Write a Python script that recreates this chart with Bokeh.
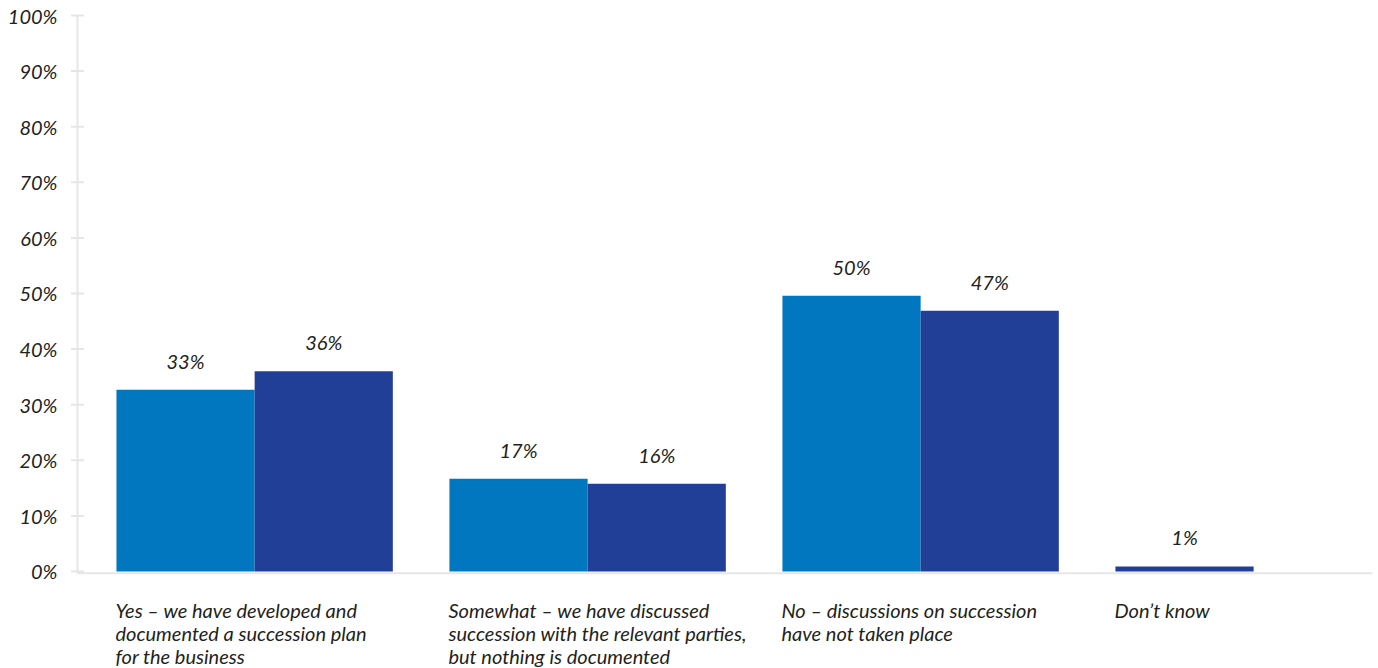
from bokeh.plotting import figure
from bokeh.models import ColumnDataSource, Range1d
from bokeh.core.properties import value
from bokeh.embed import file_html
from bokeh.resources import INLINE

categories = [
    "Yes \u2013 we have developed and\ndocumented a succession plan\nfor the business",
    "Somewhat  \u2013 we have discussed\nsuccession with the relevant parties,\nbut nothing is documented",
    "No \u2013 discussions on succession\nhave not taken place",
    "Don\u2019t know",
]
series_a = [32.7, 16.7, 49.6, None]
series_b = [36.0, 15.8, 46.9, 0.9]
y_ticks = [0, 10, 20, 30, 40, 50, 60, 70, 80, 90, 100]

COLOR_A = "#0077BF"
COLOR_B = "#223F98"
AXIS = "#E6E6E6"
TEXT = "#231F20"
FONT = "Lato"
BAR_W = 0.415
AXIS_X = -0.532
X_END = 3.357
Y_AXIS_BOTTOM = -0.3

p = figure(width=1378, height=668, output_backend="svg", toolbar_location=None,
           x_range=Range1d(-0.7632, 3.375), y_range=Range1d(-17.45, 102.7),
           min_border=0)
p.outline_line_color = None
p.grid.visible = False
p.axis.visible = False
p.background_fill_color = "white"
p.border_fill_color = "white"

# axis lines and ticks
p.segment(x0=[AXIS_X, AXIS_X], y0=[Y_AXIS_BOTTOM, Y_AXIS_BOTTOM],
          x1=[AXIS_X, X_END], y1=[y_ticks[-1], Y_AXIS_BOTTOM],
          line_color=AXIS, line_width=2)
p.scatter(x=[AXIS_X] * len(y_ticks), y=y_ticks, marker="dash", size=13,
          line_color=AXIS, line_width=2)
p.text(x=[AXIS_X] * len(y_ticks), y=y_ticks, text=[f"{t}%" for t in y_ticks],
       x_offset=-20, text_align="right", text_baseline="middle",
       text_font=value(FONT), text_font_style="italic", text_font_size="20px",
       text_color=TEXT)

xa, ya, xb, yb = [], [], [], []
for i, (a, b) in enumerate(zip(series_a, series_b)):
    if a is not None:
        xa.append(i - BAR_W / 2)
        ya.append(a)
        xb.append(i + BAR_W / 2)
    else:
        xb.append(i - BAR_W / 2)
    yb.append(b)

src_a = ColumnDataSource(dict(x=xa, top=ya, label=[f"{round(v)}%" for v in ya]))
src_b = ColumnDataSource(dict(x=xb, top=yb, label=[f"{round(v)}%" for v in yb]))

p.vbar(x="x", top="top", width=BAR_W, bottom=0, source=src_a, fill_color=COLOR_A, line_color=None)
p.vbar(x="x", top="top", width=BAR_W, bottom=0, source=src_b, fill_color=COLOR_B, line_color=None)

for src in (src_a, src_b):
    p.text(x="x", y="top", text="label", source=src, text_align="center", text_baseline="bottom",
           y_offset=-17, text_font=value(FONT), text_font_style="italic",
           text_font_size="20px", text_color=TEXT)

p.text(x=[i - BAR_W for i in range(len(categories))], y=[0] * len(categories), text=categories,
       x_offset=-1, y_offset=27, text_align="left", text_baseline="top",
       text_font=value(FONT), text_font_style="italic", text_font_size="20px",
       text_color=TEXT, text_line_height=0.95)

open("out.html", "w").write(file_html(p, INLINE))
